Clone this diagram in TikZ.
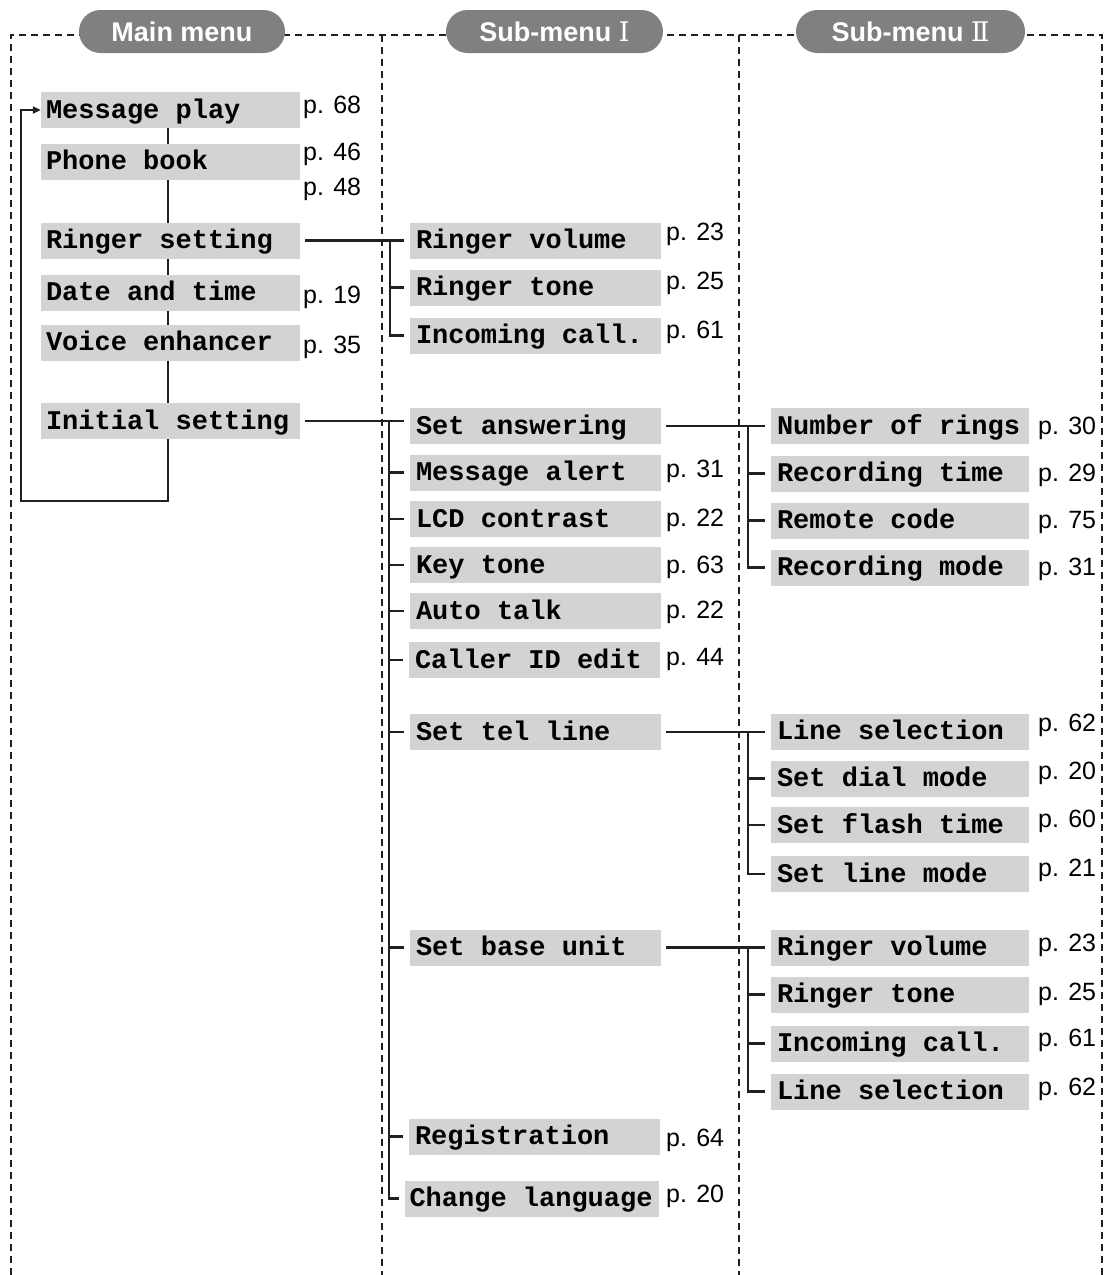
\documentclass[tikz,border=0pt]{standalone}
\usepackage{fontspec}
\setmainfont{Liberation Sans}
\setmonofont{Liberation Mono}
\newfontfamily\numeralfont{DejaVu Serif}
\usepackage{xcolor}
\usetikzlibrary{arrows.meta, positioning, backgrounds}

\definecolor{boxgray}{HTML}{D1D3D4}
\definecolor{pillgray}{HTML}{808080}
\definecolor{inkblack}{HTML}{231F20}

\begin{document}
\begin{tikzpicture}[
    x=1pt, y=-1pt,
    item/.style={
        rectangle,
        fill=boxgray,
        inner ysep=0pt,
        minimum height=36pt,
        text height=18pt,
        text depth=2pt,
        align=left,
        font=\fontsize{27}{30}\selectfont\ttfamily\bfseries,
        execute at begin node={\fontdimen2\font=0.6em\spaceskip=0.6em\relax}
    },
    mainitem/.style={item, inner xsep=5pt, text width=249pt},
    subitem/.style={item, inner xsep=6pt, text width=239pt},
    subsubitem/.style={item, inner xsep=6pt, text width=246pt},
    page/.style={
        anchor=base west,
        inner sep=0pt,
        font=\fontsize{25}{28}\selectfont
    },
    menuhead/.style={
        fill=pillgray,
        text=white,
        rounded corners=21.5pt,
        minimum height=43pt,
        inner sep=0pt,
        text height=20pt,
        text depth=0pt,
        font=\fontsize{27}{30}\selectfont\bfseries
    },
    frame/.style={draw=inkblack, line width=1.4pt, dash pattern=on 7pt off 5pt},
    link/.style={draw=inkblack, line width=2.2pt},
    arrow/.style={link, -{Triangle[length=8pt, width=7pt]}}
]

\useasboundingbox (0,0) rectangle (1105,1275);

% Dashed columns
\draw[frame] (11,1275) -- (11,35) -- (1102,35) -- (1102,1275);
\draw[frame] (382,35) -- (382,1275);
\draw[frame] (739,35) -- (739,1275);

\node[menuhead, minimum width=206pt] (mainhead) at (182,31.5) {Main menu};
\node[menuhead, minimum width=217pt] (sub1head) at (554.5,31.5) {Sub-menu {\numeralfont\mdseries Ⅰ}};
\node[menuhead, minimum width=229pt] (sub2head) at (910.5,31.5) {Sub-menu {\numeralfont\mdseries Ⅱ}};

% Main menu
\node[mainitem] (msgplay) at (170.5,110) {Message play};
\node[mainitem] (phonebook) at (170.5,161.5) {Phone book};
\node[mainitem] (ringset) at (170.5,240.5) {Ringer setting};
\node[mainitem] (datetime) at (170.5,292.5) {Date and time};
\node[mainitem] (voice) at (170.5,342.5) {Voice enhancer};
\node[mainitem] (initset) at (170.5,421) {Initial setting};

\node[page] (msgplay-pg) at (303,113) {p. 68};
\node[page] (phonebook-pg1) at (303,160) {p. 46};
\node[page] (phonebook-pg2) at (303,195) {p. 48};
\node[page] (datetime-pg) at (303,303) {p. 19};
\node[page] (voice-pg) at (303,353) {p. 35};

% Sub-menu I
\node[subitem] (ringvol) at (535.5,240.5) {Ringer volume};
\node[subitem] (ringtone) at (535.5,287.5) {Ringer tone};
\node[subitem] (incall) at (535.5,335.5) {Incoming call.};
\node[subitem] (setans) at (535.5,426) {Set answering};
\node[subitem] (msgalert) at (535.5,472.5) {Message alert};
\node[subitem] (lcd) at (535.5,519) {LCD contrast};
\node[subitem] (keytone) at (535.5,565) {Key tone};
\node[subitem] (autotalk) at (535.5,611) {Auto talk};
\node[subitem] (callerid) at (534.5,660) {Caller ID edit};
\node[subitem] (settel) at (535.5,732) {Set tel line};
\node[subitem] (setbase) at (535.5,947.5) {Set base unit};
\node[subitem] (regist) at (534.5,1136.5) {Registration};
\node[item, inner xsep=4.5pt, text width=245pt] (changelang) at (532,1198.5) {Change language};

\node[page] (ringvol-pg) at (666,240) {p. 23};
\node[page] (ringtone-pg) at (666,289) {p. 25};
\node[page] (incall-pg) at (666,338) {p. 61};
\node[page] (msgalert-pg) at (666,477) {p. 31};
\node[page] (lcd-pg) at (666,526) {p. 22};
\node[page] (keytone-pg) at (666,573) {p. 63};
\node[page] (autotalk-pg) at (666,618) {p. 22};
\node[page] (callerid-pg) at (666,665) {p. 44};
\node[page] (regist-pg) at (666,1146) {p. 64};
\node[page] (changelang-pg) at (666,1202) {p. 20};

% Sub-menu II
\node[subsubitem] (rings) at (900,426) {Number of rings};
\node[subsubitem] (rectime) at (900,473.5) {Recording time};
\node[subsubitem] (remote) at (900,520.5) {Remote code};
\node[subsubitem] (recmode) at (900,567.5) {Recording mode};
\node[subsubitem] (linesel) at (900,731.5) {Line selection};
\node[subsubitem] (dialmode) at (900,778.5) {Set dial mode};
\node[subsubitem] (flash) at (900,825) {Set flash time};
\node[subsubitem] (linemode) at (900,874) {Set line mode};
\node[subsubitem] (baseringvol) at (900,947.5) {Ringer volume};
\node[subsubitem] (baseringtone) at (900,994.5) {Ringer tone};
\node[subsubitem] (baseincall) at (900,1043.5) {Incoming call.};
\node[subsubitem] (baselinesel) at (900,1091.5) {Line selection};

\node[page] (rings-pg) at (1038,434) {p. 30};
\node[page] (rectime-pg) at (1038,481) {p. 29};
\node[page] (remote-pg) at (1038,528) {p. 75};
\node[page] (recmode-pg) at (1038,575) {p. 31};
\node[page] (linesel-pg) at (1038,731) {p. 62};
\node[page] (dialmode-pg) at (1038,779) {p. 20};
\node[page] (flash-pg) at (1038,827) {p. 60};
\node[page] (linemode-pg) at (1038,876) {p. 21};
\node[page] (baseringvol-pg) at (1038,951) {p. 23};
\node[page] (baseringtone-pg) at (1038,1000) {p. 25};
\node[page] (baseincall-pg) at (1038,1046) {p. 61};
\node[page] (baselinesel-pg) at (1038,1095) {p. 62};

% Connectors
\coordinate (loopbot) at (168,501);
\coordinate (loopleft) at (21,501);
\coordinate (ringtrunk) at (390,0);
\coordinate (inittrunk) at (389,0);
\coordinate (anstrunk) at (748,0);
\coordinate (teltrunk) at (748,0);
\coordinate (basetrunk) at (748,0);

\begin{scope}[on background layer]
\draw[arrow] (msgplay.center -| loopbot) -- (loopbot) -- (loopleft) |- (msgplay.west);

\draw[link] ([xshift=5pt]ringset.east) -- ([xshift=-6pt]ringset.east -| ringvol.west);
\draw[link] (ringtrunk |- ringset.east) |- ([xshift=-6pt]incall.west);
\draw[link] (ringtrunk |- ringtone.west) -- ([xshift=-6pt]ringtone.west);

\draw[link] ([xshift=5pt]initset.east) -- ([xshift=-6pt]initset.east -| setans.west);
\draw[link] (inittrunk |- initset.east) |- ([xshift=-6pt]changelang.west);
\draw[link] (inittrunk |- msgalert.west) -- ([xshift=-6pt]msgalert.west);
\draw[link] (inittrunk |- lcd.west) -- ([xshift=-6pt]lcd.west);
\draw[link] (inittrunk |- keytone.west) -- ([xshift=-6pt]keytone.west);
\draw[link] (inittrunk |- autotalk.west) -- ([xshift=-6pt]autotalk.west);
\draw[link] (inittrunk |- callerid.west) -- ([xshift=-6pt]callerid.west);
\draw[link] (inittrunk |- settel.west) -- ([xshift=-6pt]settel.west);
\draw[link] (inittrunk |- setbase.west) -- ([xshift=-6pt]setbase.west);
\draw[link] (inittrunk |- regist.west) -- ([xshift=-6pt]regist.west);

\draw[link] ([xshift=5pt]setans.east) -- ([xshift=-6pt]setans.east -| rings.west);
\draw[link] (anstrunk |- setans.east) |- ([xshift=-6pt]recmode.west);
\draw[link] (anstrunk |- rectime.west) -- ([xshift=-6pt]rectime.west);
\draw[link] (anstrunk |- remote.west) -- ([xshift=-6pt]remote.west);

\draw[link] ([xshift=5pt]settel.east) -- ([xshift=-6pt]settel.east -| linesel.west);
\draw[link] (teltrunk |- settel.east) |- ([xshift=-6pt]linemode.west);
\draw[link] (teltrunk |- dialmode.west) -- ([xshift=-6pt]dialmode.west);
\draw[link] (teltrunk |- flash.west) -- ([xshift=-6pt]flash.west);

\draw[link] ([xshift=5pt]setbase.east) -- ([xshift=-6pt]setbase.east -| baseringvol.west);
\draw[link] (basetrunk |- setbase.east) |- ([xshift=-6pt]baselinesel.west);
\draw[link] (basetrunk |- baseringtone.west) -- ([xshift=-6pt]baseringtone.west);
\draw[link] (basetrunk |- baseincall.west) -- ([xshift=-6pt]baseincall.west);
\end{scope}

\end{tikzpicture}
\end{document}
